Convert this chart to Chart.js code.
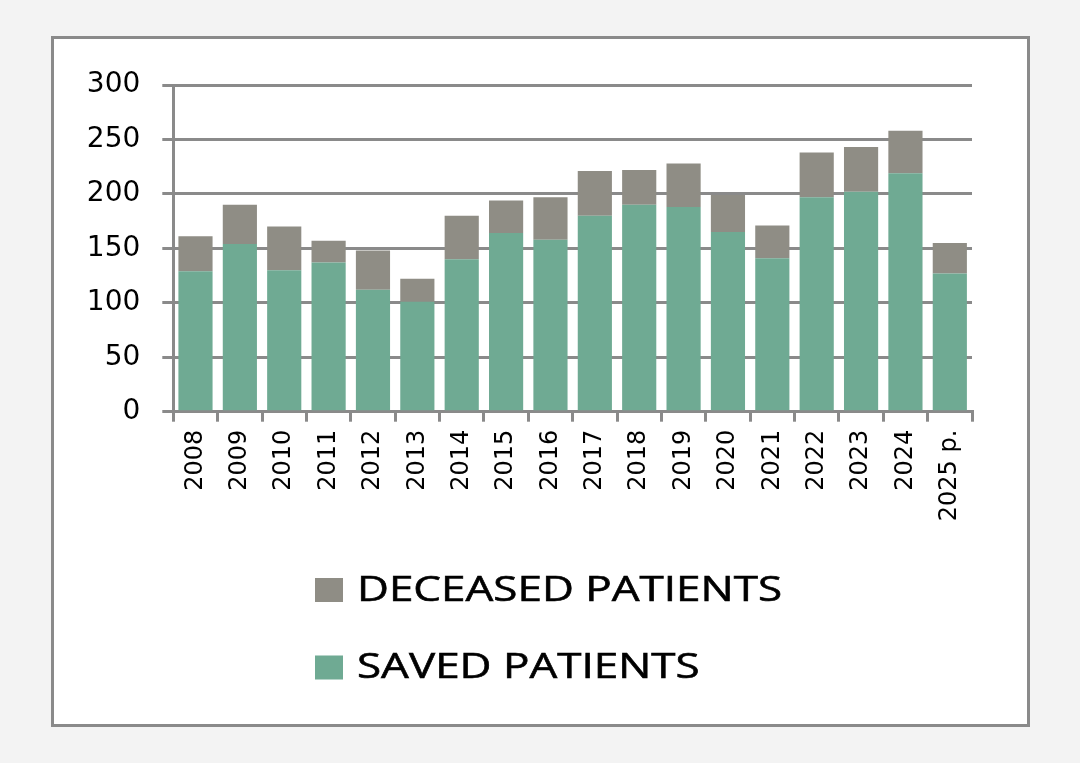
<!DOCTYPE html>
<html><head><meta charset="utf-8">
<script src="https://cdn.jsdelivr.net/npm/chart.js@4/dist/chart.umd.min.js"></script>
<style>
html,body{margin:0;padding:0;background:#f3f3f3;width:1080px;height:763px;overflow:hidden;}
#frame{position:absolute;left:51px;top:36px;width:973px;height:685px;border:3px solid #8a8a8a;background:#fff;}
canvas{display:block;}
</style></head><body>
<div id="frame"><canvas id="c" width="973" height="685"></canvas></div>
<script>
const categories = ['2008','2009','2010','2011','2012','2013','2014','2015','2016','2017','2018','2019','2020','2021','2022','2023','2024','2025 p.'];
const savedPatients = [129,154,130,137,112,101,140,164,158,180,190,188,165,141,197,202,219,127];
const deceasedPatients = [32,36,40,20,36,21,40,30,39,41,32,40,34,30,41,41,39,28];
const yTicks = [0,50,100,150,200,250,300];
const seriesLabels = ['SAVED PATIENTS','DECEASED PATIENTS'];

const GRID = '#8a8a8a';
const GREEN = '#6faa93';
const GREY = '#8f8d85';

const legendPlugin = {
  id: 'customLegend',
  afterDraw(chart) {
    const ctx = chart.ctx;
    const left = 261;
    const rows = [551, 628.5];
    const order = [1, 0];
    ctx.save();
    ctx.font = '34px "Open Sans"';
    ctx.textBaseline = 'middle';
    ctx.fillStyle = '#000';
    const sx = 425 / ctx.measureText(chart.data.datasets[1].label).width;
    order.forEach((di, i) => {
      const ds = chart.data.datasets[di];
      const cy = rows[i];
      ctx.fillStyle = ds.backgroundColor;
      ctx.fillRect(left, cy - 12, 28, 24);
      ctx.save();
      ctx.translate(left + 42, cy);
      ctx.scale(sx, 1);
      ctx.fillStyle = '#000';
      ctx.strokeStyle = '#000';
      ctx.lineWidth = 0.6;
      ctx.fillText(ds.label, 0, 1);
      ctx.strokeText(ds.label, 0, 1);
      ctx.restore();
    });
    ctx.restore();
  }
};

new Chart(document.getElementById('c'), {
  type: 'bar',
  data: {
    labels: categories,
    datasets: [
      { label: seriesLabels[0], data: savedPatients, backgroundColor: GREEN, barPercentage: 0.77, categoryPercentage: 1 },
      { label: seriesLabels[1], data: deceasedPatients, backgroundColor: GREY, barPercentage: 0.77, categoryPercentage: 1 }
    ]
  },
  options: {
    responsive: false,
    animation: false,
    events: [],
    layout: { padding: { top: 46, right: 55, bottom: 172.3, left: 0 } },
    plugins: { legend: { display: false }, tooltip: { enabled: false } },
    scales: {
      x: {
        stacked: true,
        grid: { display: true, drawOnChartArea: false, drawTicks: true, tickLength: 10, color: GRID, lineWidth: 3, offset: true },
        border: { display: true, color: GRID, width: 3 },
        ticks: { minRotation: 90, maxRotation: 90, autoSkip: false, padding: 8, color: '#000', font: { family: 'DejaVu Sans', size: 24 } },
        afterFit(scale) { scale.height = 140; }
      },
      y: {
        stacked: true,
        min: 0, max: 300,
        afterBuildTicks(scale) { scale.ticks = yTicks.map(v => ({ value: v })); },
        grid: { color: GRID, lineWidth: 3, drawTicks: true, tickLength: 11 },
        border: { display: true, color: GRID, width: 3 },
        ticks: { padding: 22, color: '#000', font: { family: 'DejaVu Sans', size: 28 } },
        afterFit(scale) { scale.width = 119.3; }
      }
    }
  },
  plugins: [legendPlugin]
});
</script>
</body></html>
